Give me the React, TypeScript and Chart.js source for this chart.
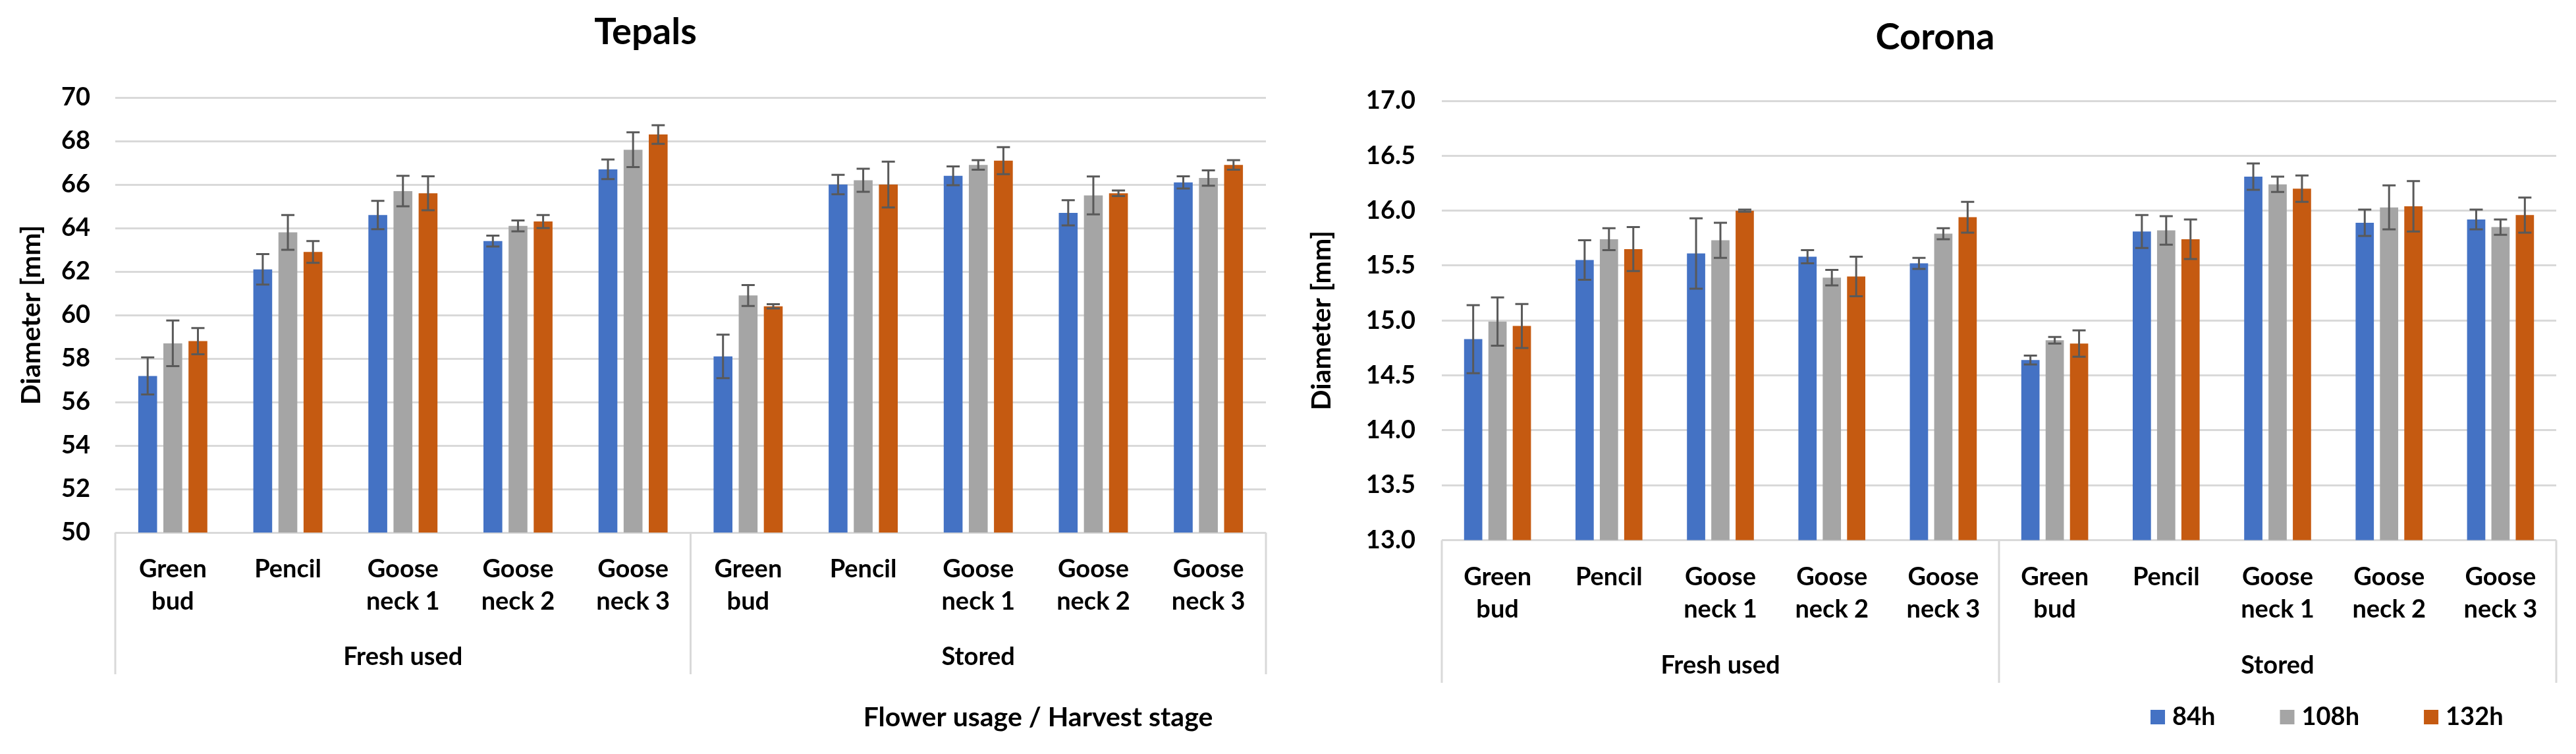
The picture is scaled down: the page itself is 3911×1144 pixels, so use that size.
import React, { useEffect, useRef } from 'react';
import { Chart, registerables } from 'chart.js';

Chart.register(...registerables);

const FONT = 'Lato, "Open Sans", "DejaVu Sans", sans-serif';

// ---------- data ----------
const categories = [
  ['Green', 'bud'], ['Pencil'], ['Goose', 'neck 1'], ['Goose', 'neck 2'], ['Goose', 'neck 3'],
  ['Green', 'bud'], ['Pencil'], ['Goose', 'neck 1'], ['Goose', 'neck 2'], ['Goose', 'neck 3'],
];
const groups = ['Fresh used', 'Stored'];
const seriesLabels = ['84h', '108h', '132h'];
const seriesColors = ['#4472C4', '#A5A5A5', '#C55A11'];

const tepals84 = [57.2, 62.1, 64.6, 63.4, 66.7, 58.1, 66.0, 66.4, 64.7, 66.1];
const tepals84Err = [0.85, 0.7, 0.65, 0.25, 0.45, 1.0, 0.45, 0.43, 0.58, 0.28];
const tepals108 = [58.7, 63.8, 65.7, 64.1, 67.6, 60.9, 66.2, 66.9, 65.5, 66.3];
const tepals108Err = [1.05, 0.8, 0.7, 0.25, 0.8, 0.48, 0.53, 0.22, 0.87, 0.35];
const tepals132 = [58.8, 62.9, 65.6, 64.3, 68.3, 60.4, 66.0, 67.1, 65.6, 66.9];
const tepals132Err = [0.6, 0.5, 0.78, 0.3, 0.43, 0.1, 1.05, 0.62, 0.13, 0.22];

const corona84 = [14.83, 15.55, 15.61, 15.58, 15.52, 14.64, 15.81, 16.31, 15.89, 15.92];
const corona84Err = [0.31, 0.18, 0.32, 0.06, 0.05, 0.04, 0.15, 0.12, 0.12, 0.09];
const corona108 = [14.99, 15.74, 15.73, 15.39, 15.79, 14.82, 15.82, 16.24, 16.03, 15.85];
const corona108Err = [0.22, 0.1, 0.16, 0.07, 0.05, 0.03, 0.13, 0.07, 0.2, 0.07];
const corona132 = [14.95, 15.65, 16.0, 15.4, 15.94, 14.79, 15.74, 16.2, 16.04, 15.96];
const corona132Err = [0.2, 0.2, 0.01, 0.18, 0.14, 0.12, 0.18, 0.12, 0.23, 0.16];

const tepalsTitle = 'Tepals';
const coronaTitle = 'Corona';
const yTitle = 'Diameter [mm]';
const xTitle = 'Flower usage / Harvest stage';

// ---------- plugins ----------
const errorBarsPlugin = {
  id: 'errorBars',
  afterDatasetsDraw(chart: any) {
    const ctx = chart.ctx;
    const y = chart.scales.y;
    ctx.save();
    ctx.strokeStyle = '#595959';
    ctx.lineWidth = 3;
    ctx.lineCap = 'butt';
    chart.data.datasets.forEach((ds: any, i: number) => {
      const meta = chart.getDatasetMeta(i);
      meta.data.forEach((bar: any, j: number) => {
        const v = ds.data[j];
        const e = ds.errors[j];
        const top = y.getPixelForValue(v + e);
        const bot = y.getPixelForValue(v - e);
        const x = bar.x;
        const hw = 10;
        ctx.beginPath();
        ctx.moveTo(x, top);
        ctx.lineTo(x, bot);
        ctx.moveTo(x - hw, top);
        ctx.lineTo(x + hw, top);
        ctx.moveTo(x - hw, bot);
        ctx.lineTo(x + hw, bot);
        ctx.stroke();
      });
    });
    ctx.restore();
  },
};

const groupAxisPlugin = {
  id: 'groupAxis',
  afterDraw(chart: any, _args: any, opts: any) {
    const ctx = chart.ctx;
    const x = chart.scales.x;
    const ca = chart.chartArea;
    const n = chart.data.labels.length;
    const names: string[] = opts.groups;
    const size = n / names.length;
    const bounds: number[] = [];
    for (let k = 0; k <= names.length; k++) {
      const idx = k * size;
      if (idx === 0) bounds.push(x.left);
      else if (idx === n) bounds.push(x.right);
      else bounds.push((x.getPixelForValue(idx - 1) + x.getPixelForValue(idx)) / 2);
    }
    ctx.save();
    ctx.strokeStyle = '#D9D9D9';
    ctx.lineWidth = 3;
    ctx.beginPath();
    bounds.forEach((b) => {
      ctx.moveTo(b, ca.bottom);
      ctx.lineTo(b, x.bottom);
    });
    ctx.stroke();
    ctx.fillStyle = '#000';
    ctx.font = `bold ${opts.fontSize}px ${FONT}`;
    ctx.textAlign = 'center';
    ctx.textBaseline = 'middle';
    names.forEach((name, k) => {
      ctx.fillText(name, (bounds[k] + bounds[k + 1]) / 2, x.bottom - opts.labelOffset);
    });
    ctx.restore();
  },
};

const freeTextPlugin = {
  id: 'freeText',
  afterDraw(chart: any, _args: any, opts: any) {
    if (!opts || !opts.text) return;
    const ctx = chart.ctx;
    ctx.save();
    ctx.fillStyle = '#000';
    ctx.font = `bold ${opts.fontSize}px ${FONT}`;
    ctx.textAlign = 'center';
    ctx.textBaseline = 'middle';
    ctx.fillText(opts.text, opts.x, opts.y);
    ctx.restore();
  },
};

const customLegendPlugin = {
  id: 'customLegend',
  afterDraw(chart: any, _args: any, opts: any) {
    if (!opts || !opts.show) return;
    const ctx = chart.ctx;
    ctx.save();
    ctx.font = `bold ${opts.fontSize}px ${FONT}`;
    ctx.textBaseline = 'middle';
    ctx.textAlign = 'left';
    let cx = opts.x;
    const cy = opts.y;
    const box = opts.box;
    chart.data.datasets.forEach((ds: any) => {
      ctx.fillStyle = ds.backgroundColor;
      ctx.fillRect(cx, cy - box / 2, box, box);
      cx += box + opts.gap;
      ctx.fillStyle = '#000';
      ctx.fillText(ds.label, cx, cy);
      cx += ctx.measureText(ds.label).width + opts.spacing;
    });
    ctx.restore();
  },
};

function makeConfig(p: any): any {
  const datasets = p.values.map((vals: number[], i: number) => ({
    label: seriesLabels[i],
    data: vals,
    errors: p.errors[i],
    backgroundColor: seriesColors[i],
    borderWidth: 0,
    categoryPercentage: 0.655,
    barPercentage: 0.75,
  }));
  return {
    type: 'bar',
    data: { labels: categories, datasets },
    plugins: [errorBarsPlugin, groupAxisPlugin, freeTextPlugin, customLegendPlugin],
    options: {
      animation: false,
      responsive: true,
      maintainAspectRatio: false,
      layout: { padding: p.layoutPadding },
      plugins: {
        legend: { display: false },
        tooltip: { enabled: false },
        title: {
          display: true,
          text: p.title,
          color: '#000',
          font: { family: FONT, size: 56, weight: 'bold', lineHeight: 1.2 },
          padding: p.titlePadding,
        },
        groupAxis: { groups, fontSize: 38, labelOffset: 26 },
        freeText: p.freeText || {},
        customLegend: p.legend || {},
      },
      scales: {
        x: {
          type: 'category',
          grid: { display: false, drawTicks: false },
          border: { display: false },
          ticks: {
            color: '#000',
            autoSkip: false,
            maxRotation: 0,
            minRotation: 0,
            padding: 31.5,
            font: { family: FONT, size: 38, weight: 'bold', lineHeight: 1.29 },
          },
          afterFit(scale: any) {
            scale.height = p.xAxisHeight;
          },
        },
        y: {
          min: p.yMin,
          max: p.yMax,
          grid: { color: '#D9D9D9', lineWidth: 3, drawTicks: false },
          border: { display: false },
          ticks: {
            stepSize: p.step,
            color: '#000',
            padding: p.yTickPadding,
            font: { family: FONT, size: 38, weight: 'bold' },
            callback: (v: any) => Number(v).toFixed(p.decimals),
          },
          title: {
            display: true,
            text: yTitle,
            color: '#000',
            font: { family: FONT, size: 41, weight: 'bold', lineHeight: 1.0 },
            padding: { top: p.yTitlePad, bottom: 0 },
          },
          afterFit(scale: any) {
            scale.width = p.yAxisWidth;
          },
        },
      },
    },
  };
}

export default function App() {
  const tepalsRef = useRef<HTMLCanvasElement>(null);
  const coronaRef = useRef<HTMLCanvasElement>(null);

  useEffect(() => {
    document.body.style.margin = '0';
    document.body.style.overflow = 'hidden';
    const c1 = new Chart(
      tepalsRef.current as HTMLCanvasElement,
      makeConfig({
        title: tepalsTitle,
        values: [tepals84, tepals108, tepals132],
        errors: [tepals84Err, tepals108Err, tepals132Err],
        yMin: 50,
        yMax: 70,
        step: 2,
        decimals: 0,
        layoutPadding: { left: 38, right: 38, top: 0, bottom: 121 },
        titlePadding: { top: 15.4, bottom: 65.4 },
        yAxisWidth: 137,
        yTickPadding: 38,
        yTitlePad: -10.5,
        xAxisHeight: 215,
        freeText: { text: xTitle, fontSize: 41, x: 1576, y: 1089 },
      })
    );
    const c2 = new Chart(
      coronaRef.current as HTMLCanvasElement,
      makeConfig({
        title: coronaTitle,
        values: [corona84, corona108, corona132],
        errors: [corona84Err, corona108Err, corona132Err],
        yMin: 13,
        yMax: 17,
        step: 0.5,
        decimals: 1,
        layoutPadding: { left: 33, right: 30, top: 0, bottom: 108 },
        titlePadding: { top: 23.4, bottom: 62.4 },
        yAxisWidth: 194,
        yTickPadding: 40,
        yTitlePad: -8.5,
        xAxisHeight: 216.5,
        legend: { show: true, fontSize: 38, x: 1303, y: 1088, box: 22, gap: 11, spacing: 98 },
      })
    );
    return () => {
      c1.destroy();
      c2.destroy();
    };
  }, []);

  return (
    <div style={{ position: 'relative', width: 3911, height: 1144, background: '#fff', overflow: 'hidden' }}>
      <div style={{ position: 'absolute', left: 0, top: 0, width: 1960, height: 1144 }}>
        <canvas ref={tepalsRef} />
      </div>
      <div style={{ position: 'absolute', left: 1962, top: 0, width: 1949, height: 1144 }}>
        <canvas ref={coronaRef} />
      </div>
    </div>
  );
}
